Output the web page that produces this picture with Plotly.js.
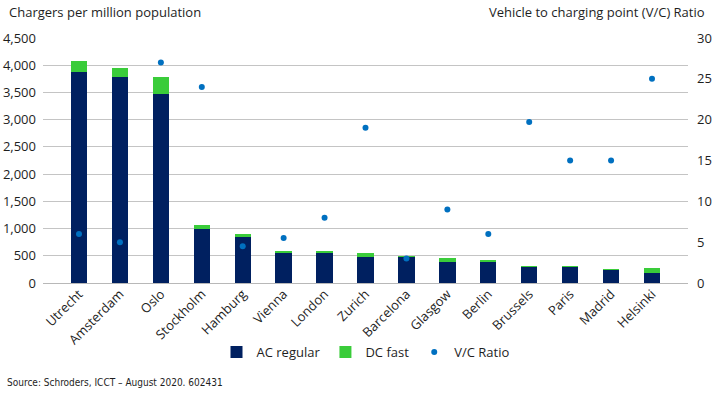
<!DOCTYPE html>
<html>
<head>
<meta charset="utf-8">
<script src="https://cdn.plot.ly/plotly-3.0.1.min.js"></script>
<style>html,body{margin:0;padding:0;background:#fff;}#chart{width:721px;height:394px;}</style>
</head>
<body>
<div id="chart"></div>
<script>
const cities = ["Utrecht","Amsterdam","Oslo","Stockholm","Hamburg","Vienna","London","Zurich","Barcelona","Glasgow","Berlin","Brussels","Paris","Madrid","Helsinki"];
const acRegular = [3880,3780,3480,990,840,545,545,480,470,390,390,300,300,240,190];
const dcFast = [200,160,310,70,60,45,45,70,30,70,30,10,5,10,80];
const vcRatio = [6,5,27,24,4.5,5.5,8,19,3,9,6,19.7,15,15,25];
const leftTicks = [0,500,1000,1500,2000,2500,3000,3500,4000,4500];
const rightTicks = [0,5,10,15,20,25,30];

const FONT = "Open Sans, Noto Sans, sans-serif";
const TXT = '#1e1e1e';
const traces = [
  {type:'bar', name:'AC regular', x:cities, y:acRegular, marker:{color:'#002060'}, hoverinfo:'skip'},
  {type:'bar', name:'DC fast', x:cities, y:dcFast, marker:{color:'#3acc3a'}, hoverinfo:'skip'},
  {type:'scatter', mode:'markers', name:'V/C Ratio', x:cities, y:vcRatio, yaxis:'y2',
   marker:{color:'#0070c0', size:6}, hoverinfo:'skip'}
];
const layout = {
  width:721, height:394,
  margin:{l:43, r:33, t:38, b:111, autoexpand:false},
  paper_bgcolor:'#fff', plot_bgcolor:'#fff',
  barmode:'stack', bargap:0.6,
  font:{family:FONT, size:13, color:TXT},
  showlegend:true,
  legend:{orientation:'h', x:0.5, xanchor:'center', y:-0.282, yanchor:'middle',
          traceorder:'normal', font:{size:13, color:TXT}, itemwidth:30, tracegroupgap:0},
  xaxis:{tickangle:-45, showgrid:false, showline:false, ticks:'', automargin:false,
         tickfont:{size:13, color:TXT}},
  yaxis:{range:[0,4500], tickvals:leftTicks, tickformat:',d', showgrid:true, gridcolor:'#c4c4c4',
         gridwidth:1, zeroline:true, zerolinecolor:'#b8b8b8', showline:false, ticks:'', automargin:false,
         ticklabelstandoff:6, tickfont:{size:13, color:TXT}},
  yaxis2:{range:[0,30], tickvals:rightTicks, overlaying:'y', side:'right', showgrid:false, automargin:false,
          zeroline:false, showline:false, ticks:'', ticklabelstandoff:8, tickfont:{size:13, color:TXT}},
  annotations:[
    {text:'Chargers per million population', xref:'paper', yref:'paper', x:0, xanchor:'left',
     xshift:-36, y:1, yshift:26, yanchor:'middle', showarrow:false, font:{size:13, color:TXT}},
    {text:'Vehicle to charging point (V/C) Ratio', xref:'paper', yref:'paper', x:1, xanchor:'right',
     xshift:19, y:1, yshift:26, yanchor:'middle', showarrow:false, font:{size:13, color:TXT}},
    {text:'Source: Schroders, ICCT – August 2020. 602431', xref:'paper', yref:'paper', x:0, xanchor:'left',
     xshift:-38, y:0, yshift:-99, yanchor:'middle', showarrow:false,
     font:{size:10, color:TXT, family:'Liberation Sans Narrow, DejaVu Sans Condensed, sans-serif'}}
  ]
};
Plotly.newPlot('chart', traces, layout, {displayModeBar:false, staticPlot:true});
</script>
</body>
</html>
